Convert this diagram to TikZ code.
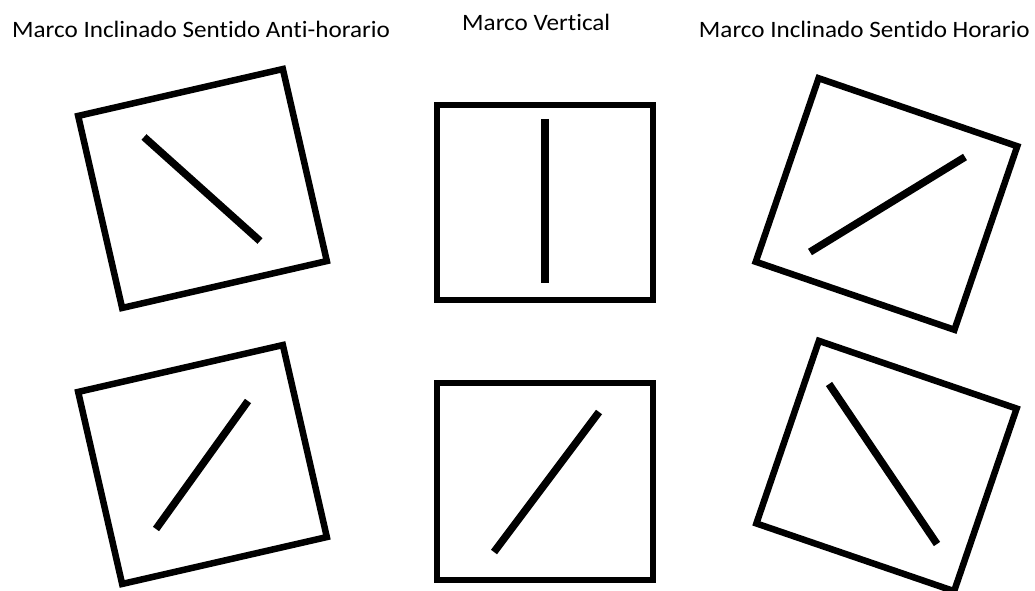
\documentclass[tikz,border=0pt]{standalone}
\usepackage{fontspec}
\setmainfont{Carlito}[FakeStretch=1.07, Ligatures=NoCommon]
\usepackage{tikz}
\usetikzlibrary{positioning}

\begin{document}
\begin{tikzpicture}[
  x=1pt, y=-1pt,
  marco/.style={draw, line width=6.5pt, inner sep=0pt},
  barra/.style={line width=7.5pt},
  titulo/.style={inner sep=0pt, font=\fontsize{23.5}{28}\selectfont}
]
  \useasboundingbox (0,0) rectangle (1035,591);

  % titles
  \node[titulo, anchor=base west] (t1) at (12,38) {Marco Inclinado Sentido Anti-horario};
  \node[titulo, anchor=base west] (t2) at (462,31) {Marco Vertical};
  \node[titulo, anchor=base east] (t3) at (1030,38) {Marco Inclinado Sentido Horario};

  % frames, top row
  \node[marco, rotate=12.9, minimum width=210pt, minimum height=197pt] (m1) at (202.5,188.5) {};
  \node[marco, minimum width=216pt, minimum height=195pt] (m2) at (545,202.5) {};
  \node[marco, rotate=-18.9, minimum width=210pt, minimum height=194pt] (m3) at (886.5,204) {};

  % frames, bottom row
  \node[marco, rotate=12.9, minimum width=210pt, minimum height=197pt] (m4) at (202.5,464.5) {};
  \node[marco, minimum width=216pt, minimum height=197pt] (m5) at (545,481.5) {};
  \node[marco, rotate=-18.9, minimum width=209pt, minimum height=193pt] (m6) at (886.5,466) {};

  % rod ends
  \coordinate (a1) at (144,137);  \coordinate (b1) at (260,241);
  \coordinate (a2) at (545,119);  \coordinate (b2) at (545,283);
  \coordinate (a3) at (810,252);  \coordinate (b3) at (965,157);
  \coordinate (a4) at (156,529);  \coordinate (b4) at (248,401);
  \coordinate (a5) at (494,552);  \coordinate (b5) at (599,412);
  \coordinate (a6) at (829,384);  \coordinate (b6) at (937,544);

  \foreach \i in {1,...,6}
    \draw[barra] (a\i) -- (b\i);
\end{tikzpicture}
\end{document}
